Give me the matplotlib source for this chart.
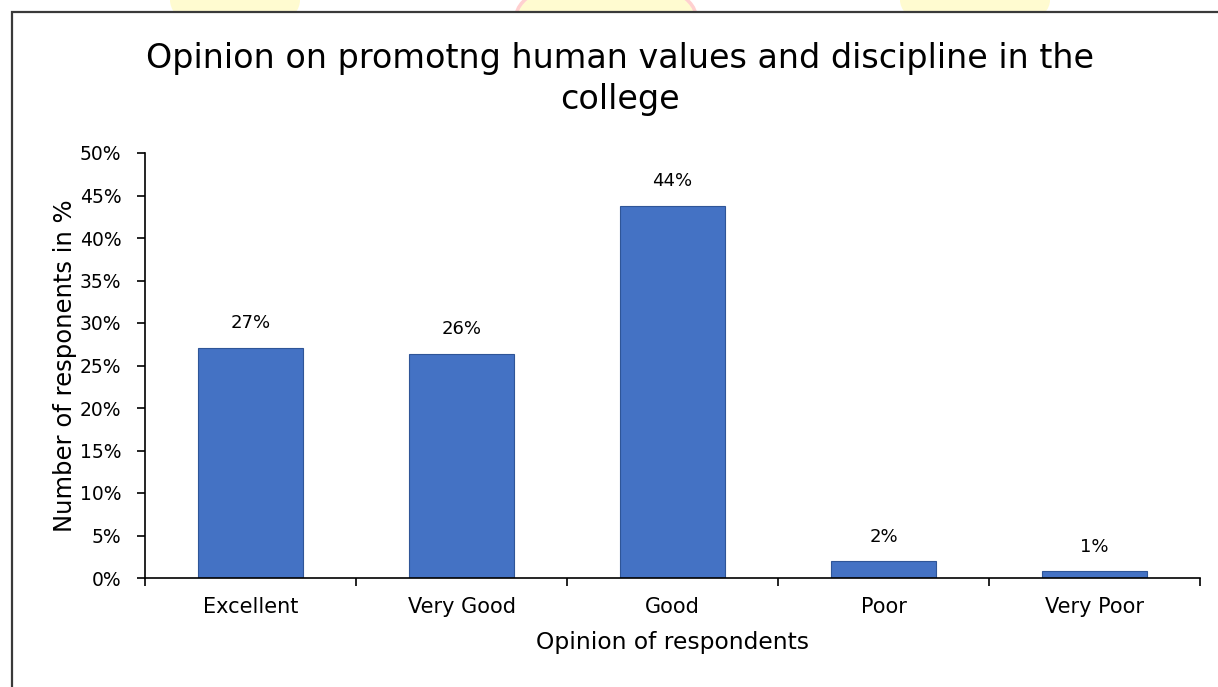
import matplotlib
matplotlib.use("Agg")
import matplotlib.pyplot as plt
from matplotlib.patches import Rectangle, Ellipse
import numpy as np

categories = ["Excellent", "Very Good", "Good", "Poor", "Very Poor"]
values = [27.1, 26.4, 43.8, 2.0, 0.8]
labels = ["27%", "26%", "44%", "2%", "1%"]
yticks = [0, 5, 10, 15, 20, 25, 30, 35, 40, 45, 50]

plt.rcParams['font.family'] = ['DejaVu Sans']

W, H = 1218, 687
fig = plt.figure(figsize=(W/100, H/100), dpi=100)

# watermark hints at the top
fig.patches.append(Ellipse((235/W, 1.0), 130/W, 70/H, transform=fig.transFigure,
                           facecolor="#fffbd0", edgecolor="none", zorder=0))
fig.patches.append(Ellipse((606/W, 0.975), 180/W, 80/H, transform=fig.transFigure,
                           facecolor="#fffbd0", edgecolor="#ffd0d0", lw=2.5, zorder=0))
fig.patches.append(Ellipse((975/W, 1.0), 150/W, 70/H, transform=fig.transFigure,
                           facecolor="#fffbd0", edgecolor="none", zorder=0))
# white chart area with border
fig.patches.append(Rectangle((12/W, -0.05), 1.2, (675/H) + 0.05, transform=fig.transFigure,
                             facecolor="white", edgecolor="#3a3a3a", lw=1.6, zorder=1))

ax = fig.add_axes([145/W, 1-578/H, (1200-145)/W, (578-153)/H])
ax.set_zorder(2)
ax.patch.set_alpha(0)

x = np.arange(len(categories))
ax.bar(x, values, width=0.5, color="#4472C4", edgecolor="#2F5597", linewidth=0.8)
for xi, v, lab in zip(x, values, labels):
    ax.annotate(lab, (xi, v), xytext=(0, 11), textcoords="offset points",
                ha="center", va="bottom", fontsize=13)

ax.set_xlim(-0.5, len(categories)-0.5)
ax.set_ylim(0, 50)
ax.set_yticks(yticks)
ax.set_yticklabels([f"{t}%" for t in yticks], fontsize=13.5)
ax.set_xticks(x)
ax.set_xticklabels(categories, fontsize=15)
ax.tick_params(axis='x', length=0, pad=14)
ax.set_xticks(np.arange(-0.5, len(categories)), minor=True)
ax.tick_params(axis='x', which='minor', length=6, width=1.2, color='black', direction='out')
ax.tick_params(axis='y', length=6, width=1.2, direction='out', pad=11)
for s in ["top", "right"]:
    ax.spines[s].set_visible(False)
for s in ["left", "bottom"]:
    ax.spines[s].set_linewidth(1.2)

ax.set_ylabel("Number of responents in %", fontsize=17.5, labelpad=2)
ax.set_xlabel("Opinion of respondents", fontsize=16.8, labelpad=10)

fig.text(620/W, 1-79/H, "Opinion on promotng human values and discipline in the\ncollege",
         ha="center", va="center", fontsize=24, linespacing=1.3, zorder=3)

fig.savefig("out.png", dpi=100)
